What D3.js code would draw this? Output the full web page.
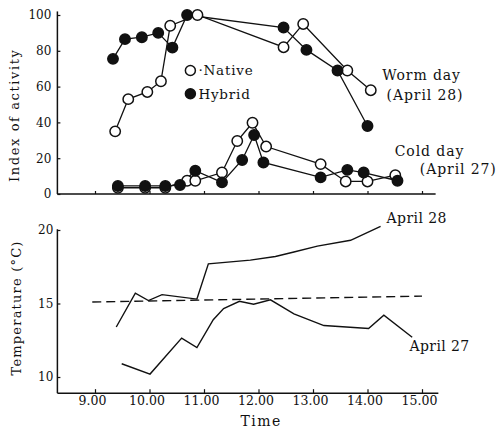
<!DOCTYPE html>
<html>
<head>
<meta charset="utf-8">
<script src="https://cdn.jsdelivr.net/npm/d3@7"></script>
<style>
  body { margin: 0; background: #fff; }
  svg text { font-family: "DejaVu Serif", "Liberation Serif", serif; fill: #111; }
</style>
</head>
<body>
<svg id="chart" width="502" height="435"></svg>
<script>
// hour ticks shared by both panels
const hours = [9, 10, 11, 12, 13, 14, 15]
const hourLabels = ['9.00', '10.00', '11.00', '12.00', '13.00', '14.00', '15.00']
const activityTicks = [0, 20, 40, 60, 80, 100]
const tempTicks = [10, 15, 20]

// index of activity, [time, value]
const warmNative = [[9.37, 35], [9.61, 53], [9.96, 57], [10.21, 63], [10.38, 94], [10.88, 100],
  [12.46, 82], [12.82, 95], [13.63, 69], [14.06, 58]]
const warmHybrid = [[9.33, 75.5], [9.55, 86.5], [9.86, 87.6], [10.16, 90], [10.42, 81.8], [10.69, 100],
  [12.46, 93], [12.88, 80.5], [13.45, 69], [14.0, 38]]
const coldNative = [[9.42, 3.5], [9.92, 3.5], [10.29, 3.5], [10.69, 7.4], [10.84, 7.4], [11.33, 12],
  [11.61, 29.6], [11.89, 39.8], [12.14, 26.5], [13.14, 16.7], [13.6, 7], [14.0, 7], [14.51, 10.5]]
const coldHybrid = [[9.42, 4.5], [9.92, 4.5], [10.29, 4.5], [10.56, 5], [10.84, 13], [11.33, 6.5],
  [11.7, 19], [11.92, 33], [12.09, 17.6], [13.14, 9.3], [13.63, 13.5], [13.93, 12], [14.55, 7.4]]

// temperature, [time, degC]
const tempApr28 = [[9.39, 13.4], [9.74, 15.7], [9.98, 15.2], [10.23, 15.6], [10.87, 15.3], [11.08, 17.7],
  [11.85, 17.95], [12.31, 18.2], [12.65, 18.5], [13.08, 18.9], [13.69, 19.3], [14.24, 20.25]]
const tempApr27 = [[9.49, 10.9], [10.01, 10.2], [10.59, 12.65], [10.87, 12.0], [11.17, 13.9], [11.36, 14.65],
  [11.65, 15.15], [11.91, 14.95], [12.22, 15.25], [12.65, 14.3], [13.2, 13.5], [14.02, 13.3], [14.3, 14.2], [14.82, 12.7]]
const tempRef = [[8.95, 15.1], [15.0, 15.5]]

const svg = d3.select('#chart')

const x = d3.scaleLinear().domain([9, 15]).range([95, 422])
const yAct = d3.scaleLinear().domain([0, 100]).range([194, 15])
const yTemp = d3.scaleLinear().domain([10, 20]).range([377, 230])

const line = y => d3.line().x(d => x(d[0])).y(d => y(d[1]))

// ---- axes (ticks point inward like the print)
const axisStyle = g => {
  g.select('.domain').remove()
  g.selectAll('.tick line').attr('stroke', '#111').attr('stroke-width', 1.2)
  g.selectAll('.tick text').attr('font-size', 12).style('font-family', '"DejaVu Serif", serif').attr('fill', '#111')
}

// top panel
svg.append('line')
  .attr('x1', x(8.31)).attr('x2', x(8.31))
  .attr('y1', yAct(102)).attr('y2', yAct(0))
  .attr('stroke', '#111').attr('stroke-width', 1.5)
svg.append('line')
  .attr('x1', x(8.31)).attr('x2', x(15.25))
  .attr('y1', yAct(0)).attr('y2', yAct(0))
  .attr('stroke', '#111').attr('stroke-width', 1.5)

svg.append('g')
  .attr('transform', `translate(${x(8.31)},0)`)
  .call(d3.axisLeft(yAct).tickValues(activityTicks).tickSizeInner(-3).tickSizeOuter(0).tickPadding(6))
  .call(axisStyle)
svg.append('g')
  .attr('transform', `translate(0,${yAct(0)})`)
  .call(d3.axisBottom(x).tickValues(hours).tickSizeInner(-3).tickSizeOuter(0).tickFormat(''))
  .call(axisStyle)

// bottom panel
svg.append('line')
  .attr('x1', x(8.31)).attr('x2', x(8.31))
  .attr('y1', yTemp(20.05)).attr('y2', yTemp(8.9))
  .attr('stroke', '#111').attr('stroke-width', 1.5)
svg.append('line')
  .attr('x1', x(8.31)).attr('x2', x(15.3))
  .attr('y1', yTemp(8.9)).attr('y2', yTemp(8.9))
  .attr('stroke', '#111').attr('stroke-width', 1.5)

svg.append('g')
  .attr('transform', `translate(${x(8.31)},0)`)
  .call(d3.axisLeft(yTemp).tickValues(tempTicks).tickSizeInner(-3).tickSizeOuter(0).tickPadding(4))
  .call(axisStyle)
svg.append('g')
  .attr('transform', `translate(0,${yTemp(8.9)})`)
  .call(d3.axisBottom(x).tickValues(hours).tickSizeInner(-4).tickSizeOuter(0).tickPadding(3)
    .tickFormat((d, i) => hourLabels[i]))
  .call(axisStyle)
  .selectAll('.tick text').attr('dx', -3).attr('font-size', 12.5)

// axis titles
svg.append('text')
  .attr('transform', `translate(19,${yAct(44)}) rotate(-90)`)
  .attr('text-anchor', 'middle').attr('font-size', 13).attr('letter-spacing', 1.6)
  .text('Index of activity')
svg.append('text')
  .attr('transform', `translate(21,${yTemp(14.7)}) rotate(-90)`)
  .attr('text-anchor', 'middle').attr('font-size', 13).attr('letter-spacing', 1.2)
  .text('Temperature (°C)')
svg.append('text')
  .attr('x', x(12.05)).attr('y', 426)
  .attr('text-anchor', 'middle').attr('font-size', 14).attr('letter-spacing', 1.5)
  .text('Time')

// ---- activity series
const series = [
  { data: warmNative, fill: '#fff' },
  { data: warmHybrid, fill: '#111' },
  { data: coldNative, fill: '#fff' },
  { data: coldHybrid, fill: '#111' },
]

svg.append('g').selectAll('path')
  .data(series)
  .join('path')
  .attr('d', s => line(yAct)(s.data))
  .attr('fill', 'none').attr('stroke', '#111').attr('stroke-width', 1.3)

series.forEach(s => {
  svg.append('g').selectAll('circle')
    .data(s.data)
    .join('circle')
    .attr('cx', d => x(d[0])).attr('cy', d => yAct(d[1]))
    .attr('r', 5.2)
    .attr('fill', s.fill).attr('stroke', '#111').attr('stroke-width', 1.5)
})

// legend
const legend = [{ label: 'Native', fill: '#fff', v: 69 }, { label: 'Hybrid', fill: '#111', v: 56 }]
const lg = svg.append('g').selectAll('g').data(legend).join('g')
lg.append('circle')
  .attr('cx', x(10.75)).attr('cy', d => yAct(d.v)).attr('r', 5)
  .attr('fill', d => d.fill).attr('stroke', '#111').attr('stroke-width', 1.5)
lg.append('text')
  .attr('x', x(10.75) + 8).attr('y', d => yAct(d.v) + 5)
  .attr('font-size', 13.5).attr('letter-spacing', 0.8)
  .text(d => (d.fill === '#fff' ? '·' : '') + d.label)

// annotations
const notes = [
  { t: 'Worm day', tx: 14.27, v: 63.5 },
  { t: '(April 28)', tx: 14.35, v: 52.5 },
  { t: 'Cold day', tx: 14.5, v: 21 },
  { t: '(April 27)', tx: 14.96, v: 11 },
]
svg.append('g').selectAll('text')
  .data(notes)
  .join('text')
  .attr('x', d => x(d.tx)).attr('y', d => yAct(d.v))
  .attr('font-size', 14).attr('letter-spacing', 0.9)
  .text(d => d.t)

// ---- temperature panel
svg.append('path')
  .attr('d', line(yTemp)(tempRef))
  .attr('fill', 'none').attr('stroke', '#111').attr('stroke-width', 1.4)
  .attr('stroke-dasharray', '9,5')
svg.append('g').selectAll('path')
  .data([tempApr28, tempApr27])
  .join('path')
  .attr('d', line(yTemp))
  .attr('fill', 'none').attr('stroke', '#111').attr('stroke-width', 1.4)

svg.append('text')
  .attr('x', x(14.35)).attr('y', yTemp(20.45))
  .attr('font-size', 14).attr('letter-spacing', 0.4).text('April 28')
svg.append('text')
  .attr('x', x(14.77)).attr('y', yTemp(11.8))
  .attr('font-size', 14).attr('letter-spacing', 0.4).text('April 27')
</script>
</body>
</html>
